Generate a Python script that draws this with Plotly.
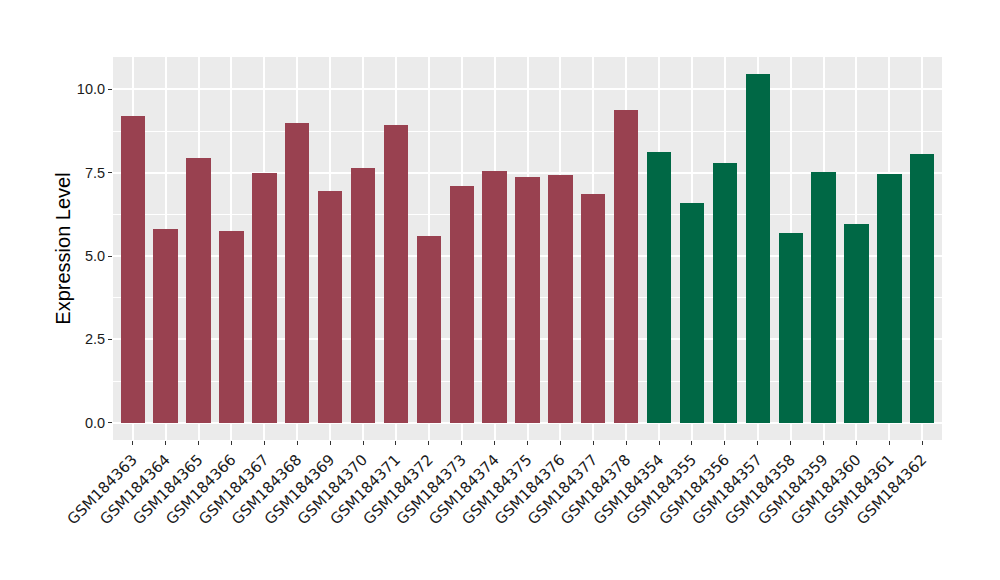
import plotly.graph_objects as go

samples = ["GSM184363","GSM184364","GSM184365","GSM184366","GSM184367","GSM184368",
           "GSM184369","GSM184370","GSM184371","GSM184372","GSM184373","GSM184374",
           "GSM184375","GSM184376","GSM184377","GSM184378",
           "GSM184354","GSM184355","GSM184356","GSM184357","GSM184358","GSM184359",
           "GSM184360","GSM184361","GSM184362"]
values = [9.19, 5.81, 7.93, 5.75, 7.48, 8.98, 6.95, 7.63, 8.92, 5.60, 7.10, 7.54,
          7.36, 7.43, 6.86, 9.37,
          8.12, 6.59, 7.79, 10.45, 5.69, 7.52, 5.96, 7.46, 8.06]
groups = ["A"] * 16 + ["B"] * 9
group_colors = {"A": "#994150", "B": "#006845"}
y_ticks = [0.0, 2.5, 5.0, 7.5, 10.0]
y_tick_text = ["0.0", "2.5", "5.0", "7.5", "10.0"]

fig = go.Figure()
fig.add_trace(go.Bar(
    x=samples, y=values,
    marker=dict(color=[group_colors[g] for g in groups], line=dict(width=0)),
    width=0.74, showlegend=False,
))

fig.update_layout(
    width=1000, height=580,
    paper_bgcolor="white", plot_bgcolor="#EBEBEB",
    margin=dict(l=105, r=66, t=49, b=148),
    font=dict(family="Liberation Sans, Arial, sans-serif", color="#1a1a1a"),
    bargap=0,
)
fig.update_xaxes(
    type="category", range=[-0.6, len(samples) - 0.4],
    tickangle=-45, tickfont=dict(family="DejaVu Sans", size=15, color="#1a1a1a"),
    showgrid=True, gridcolor="white", gridwidth=1.5,
    ticks="outside", ticklen=4, tickcolor="#333333", tickwidth=1,
    showline=False, zeroline=False,
)
fig.update_yaxes(
    range=[-0.52, 10.97],
    tickvals=y_ticks, ticktext=y_tick_text,
    tickfont=dict(size=14.5, color="#1a1a1a"),
    title=dict(text="Expression Level", font=dict(size=20, color="black"), standoff=0),
    showgrid=True, gridcolor="white", gridwidth=1.5,
    minor=dict(tickvals=[1.25, 3.75, 6.25, 8.75], showgrid=True, gridcolor="white", gridwidth=0.7, ticks=""),
    ticks="outside", ticklen=4, tickcolor="#333333", tickwidth=1,
    showline=False, zeroline=False,
)

fig.write_html("out.html")
